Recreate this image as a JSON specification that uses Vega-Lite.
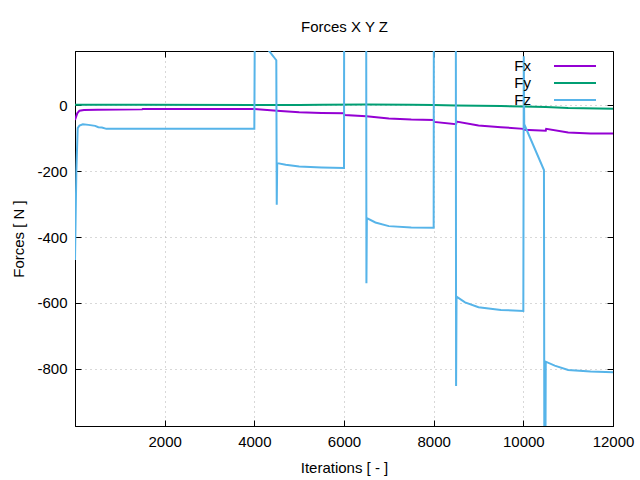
{
  "$schema": "https://vega.github.io/schema/vega-lite/v6.json",
  "width": 538,
  "height": 375,
  "autosize": {"type": "none"},
  "padding": {"left": 75, "top": 51, "right": 27, "bottom": 54},
  "background": "white",
  "config": {
    "view": {"stroke": "black", "strokeWidth": 1},
    "axis": {"labelFont": "Liberation Sans", "titleFont": "Liberation Sans", "labelFontSize": 15, "titleFontSize": 15, "titleFontWeight": "normal", "labelColor": "black", "titleColor": "black", "domainColor": "black", "tickColor": "black", "gridColor": "#b0b0b0", "gridDash": [1, 4], "gridWidth": 1, "labelFlush": false}
  },
  "data": {"values": [
    {"it": 0, "s": "Fy", "v": 1}, {"it": 1500, "s": "Fy", "v": 1}, {"it": 4000, "s": "Fy", "v": 0}, {"it": 5000, "s": "Fy", "v": 0}, {"it": 5500, "s": "Fy", "v": 1}, {"it": 6500, "s": "Fy", "v": 2}, {"it": 7500, "s": "Fy", "v": 1}, {"it": 8000, "s": "Fy", "v": 0}, {"it": 8500, "s": "Fy", "v": -1}, {"it": 9500, "s": "Fy", "v": -3}, {"it": 10000, "s": "Fy", "v": -4}, {"it": 10500, "s": "Fy", "v": -6}, {"it": 11000, "s": "Fy", "v": -9}, {"it": 12000, "s": "Fy", "v": -11},
    {"it": 0, "s": "Fx", "v": -45}, {"it": 50, "s": "Fx", "v": -25}, {"it": 100, "s": "Fx", "v": -17}, {"it": 200, "s": "Fx", "v": -15}, {"it": 500, "s": "Fx", "v": -14}, {"it": 1500, "s": "Fx", "v": -13}, {"it": 1510, "s": "Fx", "v": -12}, {"it": 4000, "s": "Fx", "v": -12}, {"it": 4500, "s": "Fx", "v": -17}, {"it": 5000, "s": "Fx", "v": -22}, {"it": 5500, "s": "Fx", "v": -24}, {"it": 6000, "s": "Fx", "v": -25}, {"it": 6010, "s": "Fx", "v": -30}, {"it": 6500, "s": "Fx", "v": -34}, {"it": 7000, "s": "Fx", "v": -41}, {"it": 7500, "s": "Fx", "v": -44}, {"it": 8000, "s": "Fx", "v": -45}, {"it": 8010, "s": "Fx", "v": -51}, {"it": 8500, "s": "Fx", "v": -58}, {"it": 8510, "s": "Fx", "v": -50}, {"it": 9000, "s": "Fx", "v": -62}, {"it": 9500, "s": "Fx", "v": -67}, {"it": 10000, "s": "Fx", "v": -72}, {"it": 10010, "s": "Fx", "v": -75}, {"it": 10500, "s": "Fx", "v": -78}, {"it": 10510, "s": "Fx", "v": -72}, {"it": 11000, "s": "Fx", "v": -83}, {"it": 11500, "s": "Fx", "v": -86}, {"it": 12000, "s": "Fx", "v": -86},
    {"it": 0, "s": "Fz", "v": -470}, {"it": 30, "s": "Fz", "v": -200}, {"it": 60, "s": "Fz", "v": -70}, {"it": 100, "s": "Fz", "v": -62}, {"it": 175, "s": "Fz", "v": -58}, {"it": 300, "s": "Fz", "v": -60}, {"it": 450, "s": "Fz", "v": -63}, {"it": 520, "s": "Fz", "v": -67}, {"it": 600, "s": "Fz", "v": -68}, {"it": 700, "s": "Fz", "v": -72}, {"it": 1500, "s": "Fz", "v": -72}, {"it": 4000, "s": "Fz", "v": -72}, {"it": 4010, "s": "Fz", "v": 220}, {"it": 4490, "s": "Fz", "v": 136}, {"it": 4500, "s": "Fz", "v": -302}, {"it": 4510, "s": "Fz", "v": -176}, {"it": 4700, "s": "Fz", "v": -181}, {"it": 5000, "s": "Fz", "v": -186}, {"it": 5500, "s": "Fz", "v": -189}, {"it": 6000, "s": "Fz", "v": -191}, {"it": 6010, "s": "Fz", "v": 1200}, {"it": 6490, "s": "Fz", "v": 1200}, {"it": 6500, "s": "Fz", "v": -540}, {"it": 6510, "s": "Fz", "v": -343}, {"it": 6700, "s": "Fz", "v": -356}, {"it": 7000, "s": "Fz", "v": -367}, {"it": 7500, "s": "Fz", "v": -371}, {"it": 8000, "s": "Fz", "v": -372}, {"it": 8010, "s": "Fz", "v": 1200}, {"it": 8490, "s": "Fz", "v": 1200}, {"it": 8500, "s": "Fz", "v": -852}, {"it": 8510, "s": "Fz", "v": -581}, {"it": 8700, "s": "Fz", "v": -598}, {"it": 9000, "s": "Fz", "v": -613}, {"it": 9500, "s": "Fz", "v": -621}, {"it": 10000, "s": "Fz", "v": -624}, {"it": 10010, "s": "Fz", "v": 148}, {"it": 10020, "s": "Fz", "v": -58}, {"it": 10460, "s": "Fz", "v": -197}, {"it": 10470, "s": "Fz", "v": -1200}, {"it": 10490, "s": "Fz", "v": -1200}, {"it": 10500, "s": "Fz", "v": -778}, {"it": 10700, "s": "Fz", "v": -790}, {"it": 11000, "s": "Fz", "v": -803}, {"it": 11500, "s": "Fz", "v": -808}, {"it": 12000, "s": "Fz", "v": -810}
  ]},
  "layer": [
    {
      "mark": {"type": "line", "strokeWidth": 2, "clip": true},
      "encoding": {
        "x": {"field": "it", "type": "quantitative", "scale": {"domain": [0, 12000], "nice": false, "zero": false}, "axis": {"values": [2000, 4000, 6000, 8000, 10000, 12000], "labelExpr": "'' + datum.value", "title": "Iterations [ - ]", "tickSize": -6, "labelPadding": 14, "titlePadding": 11, "grid": true}},
        "y": {"field": "v", "type": "quantitative", "scale": {"domain": [-973, 164], "nice": false, "zero": false}, "axis": {"values": [-800, -600, -400, -200, 0], "labelExpr": "'' + datum.value", "title": "Forces [ N ]", "tickSize": -6, "labelPadding": 14, "titlePadding": 10, "grid": true}},
        "color": {"field": "s", "type": "nominal", "scale": {"domain": ["Fx", "Fy", "Fz"], "range": ["#9400d3", "#009e73", "#56b4e9"]},
          "legend": {"title": null, "orient": "none", "legendX": 492, "legendY": 7, "symbolType": "M-3,0H3", "symbolSize": 196, "symbolStrokeWidth": 2, "labelFont": "Liberation Sans", "labelFontSize": 15, "labelColor": "black", "labelAlign": "right", "labelOffset": -52, "rowPadding": 1, "padding": 0}},
        "detail": {"field": "s"},
        "order": {"field": "it", "type": "quantitative"}
      }
    },
    {
      "mark": {"type": "line", "strokeOpacity": 0},
      "encoding": {
        "x": {"field": "it", "type": "quantitative", "axis": {"orient": "top", "values": [2000, 4000, 6000, 8000, 10000], "labels": false, "title": "Forces X Y Z", "titlePadding": 16, "tickSize": -6, "grid": false}},
        "y": {"field": "v", "type": "quantitative", "axis": {"orient": "right", "values": [-800, -600, -400, -200, 0], "labels": false, "title": null, "tickSize": -6, "grid": false}},
        "detail": {"field": "s"}
      }
    }
  ],
  "resolve": {"axis": {"x": "independent", "y": "independent"}}
}
